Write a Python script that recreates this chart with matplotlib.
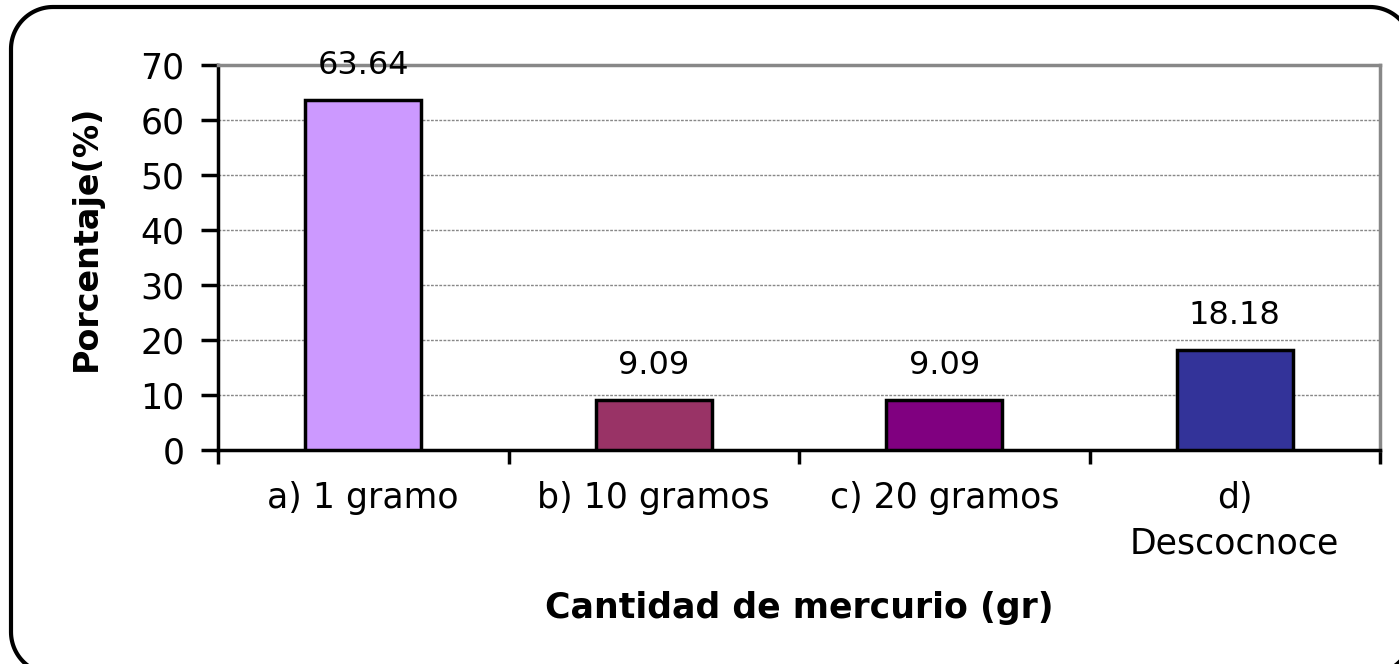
import numpy as np
import matplotlib.pyplot as plt
from matplotlib.ticker import MultipleLocator

plt.rcParams['font.family'] = ['DejaVu Sans']

categorias = ["a) 1 gramo", "b) 10 gramos", "c) 20 gramos", "d)\nDescocnoce"]
porcentajes = [63.64, 9.09, 9.09, 18.18]
etiquetas = ["63.64", "9.09", "9.09", "18.18"]
colores = ["#CC99FF", "#993366", "#800080", "#333399"]

W, H = 1399, 664
fig = plt.figure(figsize=(W / 100, H / 100), dpi=100)

# capa de fondo en pixeles para el marco redondeado (sale por la derecha y abajo)
fondo = fig.add_axes([0, 0, 1, 1])
fondo.set_xlim(0, W)
fondo.set_ylim(0, H)
fondo.axis("off")
x0, x1, y0, y1, r = 11, 1412, -10, H - 7, 42
esquinas = [(x1 - r, y1 - r, 0), (x0 + r, y1 - r, 90), (x0 + r, y0 + r, 180), (x1 - r, y0 + r, 270)]
px, py = [], []
for cx, cy, a in esquinas:
    t = np.radians(np.linspace(a, a + 90, 30))
    px.extend(cx + r * np.cos(t))
    py.extend(cy + r * np.sin(t))
px.append(px[0])
py.append(py[0])
fondo.plot(px, py, color="black", lw=3, clip_on=False)

ax = fig.add_axes([218 / W, 1 - 450 / H, (1380 - 218) / W, (450 - 65) / H])

x = range(len(categorias))
ax.bar(x, porcentajes, width=0.4, color=colores, edgecolor="black", linewidth=2.5, zorder=3)
for i, (v, t) in enumerate(zip(porcentajes, etiquetas)):
    ax.annotate(t, (i, v), xytext=(0, 25), textcoords="offset points",
                ha="center", va="center", fontsize=23)

ax.set_xlim(-0.5, 3.5)
ax.set_ylim(0, 70)
ax.yaxis.set_major_locator(MultipleLocator(10))
ax.grid(axis="y", color="#888888", linestyle=(0, (2, 1)), linewidth=1, zorder=0)

ax.set_xticks(x)
ax.set_xticklabels(categorias, fontsize=25, linespacing=1.45)
ax.set_xticks([-0.5, 0.5, 1.5, 2.5, 3.5], minor=True)
ax.tick_params(axis="x", which="major", length=0, pad=22)
ax.tick_params(axis="x", which="minor", length=10, width=2.5, direction="out")
ax.tick_params(axis="y", length=12, width=2.5, labelsize=25, pad=12)

for lado in ["top", "right"]:
    ax.spines[lado].set_color("#888888")
    ax.spines[lado].set_linewidth(2.5)
for lado in ["left", "bottom"]:
    ax.spines[lado].set_color("black")
    ax.spines[lado].set_linewidth(2.5)

ax.set_ylabel("Porcentaje(%)", fontsize=24, fontweight="bold")
ax.yaxis.set_label_coords(-0.099, 0.55)
ax.set_xlabel("Cantidad de mercurio (gr)", fontsize=25, fontweight="bold", labelpad=22)

fig.savefig("out.png", dpi=100)
